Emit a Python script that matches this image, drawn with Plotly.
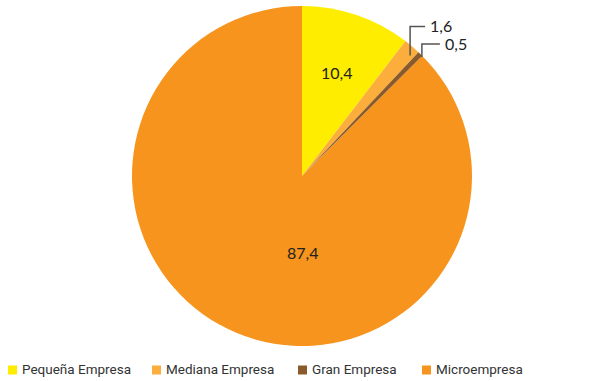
import math
import plotly.graph_objects as go

categories = ["Pequeña Empresa", "Mediana Empresa", "Gran Empresa", "Microempresa"]
values = [10.4, 1.6, 0.5, 87.4]
labels_txt = ["10,4", "1,6", "0,5", "87,4"]
colors = ["#FFED00", "#FBAE3C", "#8B5A2B", "#F7941D"]

W, H = 596, 381
cx, cy, R = 302, 176, 170
legend_x = [8, 152, 298, 422]   # legend entry left edges (px)
legend_y = 370

def px_to_paper(x, y):
    return x / W, 1 - y / H

LABEL_FONT = dict(family="Lato", size=16, color="#222222")

fig = go.Figure()
fig.add_trace(go.Pie(
    labels=categories, values=values, sort=False, direction="clockwise", rotation=0,
    marker=dict(colors=colors, line=dict(width=0)),
    textinfo="none",
    domain=dict(x=[(cx - R) / W, (cx + R) / W], y=[1 - (cy + R) / H, 1 - (cy - R) / H]),
    hoverinfo="label+value", showlegend=False,
))

total = sum(values)
cum = 0
mids = []
for v in values:
    mids.append((cum + v / 2) / total * 2 * math.pi)
    cum += v

shapes = []
annotations = []

# inside label for Pequeña
a = mids[0]
lx, ly = px_to_paper(cx + 0.64 * R * math.sin(a), cy - 0.64 * R * math.cos(a))
annotations.append(dict(x=lx, y=ly, xref="paper", yref="paper", text=labels_txt[0],
                        showarrow=False, xanchor="center", yanchor="middle", font=LABEL_FONT))

# outside labels for small slices (elbow leader lines)
offsets = {1: (-2, 9, 20, 15), 2: (1.5, 3, 10, 18)}
for i, (dx, down, rise, run) in offsets.items():
    a = mids[i]
    ex = cx + R * math.sin(a) + dx
    ey = cy - R * math.cos(a) + down
    ty = ey - down - rise
    p = [px_to_paper(ex, ey), px_to_paper(ex, ty), px_to_paper(ex + run, ty)]
    shapes.append(dict(type="path", xref="paper", yref="paper",
                       path=f"M {p[0][0]},{p[0][1]} L {p[1][0]},{p[1][1]} L {p[2][0]},{p[2][1]}",
                       line=dict(color="#555555", width=1.5)))
    tx, tyy = px_to_paper(ex + run + 3, ty - 1)
    annotations.append(dict(x=tx, y=tyy, xref="paper", yref="paper", text=labels_txt[i],
                            showarrow=False, xanchor="left", yanchor="middle",
                            font=LABEL_FONT))

# big slice label
bx, by = px_to_paper(cx, cy + 0.45 * R)
annotations.append(dict(x=bx, y=by, xref="paper", yref="paper", text=labels_txt[3],
                        showarrow=False, xanchor="center", yanchor="middle", font=LABEL_FONT))

# manual legend
for name, col, x0 in zip(categories, colors, legend_x):
    p0 = px_to_paper(x0, legend_y - 4.5)
    p1 = px_to_paper(x0 + 9, legend_y + 4.5)
    shapes.append(dict(type="rect", xref="paper", yref="paper",
                       x0=p0[0], x1=p1[0], y0=p1[1], y1=p0[1],
                       fillcolor=col, line=dict(width=0)))
    tx, ty = px_to_paper(x0 + 12, legend_y - 1)
    annotations.append(dict(x=tx, y=ty, xref="paper", yref="paper", text=name,
                            showarrow=False, xanchor="left", yanchor="middle",
                            font=dict(family="Roboto", size=13.5, color="#333333")))

fig.update_layout(
    width=W, height=H, margin=dict(l=0, r=0, t=0, b=0),
    paper_bgcolor="white", plot_bgcolor="white",
    showlegend=False,
    shapes=shapes, annotations=annotations,
)
fig.write_html("out.html")
